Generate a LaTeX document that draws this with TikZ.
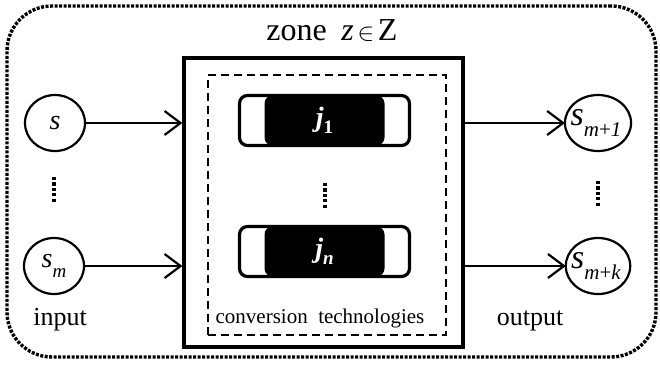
\documentclass[tikz,border=0pt]{standalone}
\usepackage{fontspec}
\setmainfont{Liberation Serif}
\usetikzlibrary{arrows.meta,shapes.geometric}
\newcommand{\fsz}[1]{\fontsize{#1}{#1}\selectfont}
\begin{document}
\begin{tikzpicture}[x=1pt,y=-1pt,
  state/.style={ellipse, draw, line width=2.2pt, minimum width=60pt, minimum height=56pt, inner sep=0pt, outer sep=0pt, font=\fsz{28}\itshape},
  tech/.style={draw, line width=3.2pt, rounded corners=8pt, minimum width=170pt, minimum height=50pt, inner sep=0pt,
    text=white, font=\fsz{28}\bfseries\itshape,
    path picture={\fill[black] ([xshift=-60pt]path picture bounding box.north) rectangle ([xshift=60pt]path picture bounding box.south);}},
  arr/.style={line width=2.2pt, -{Straight Barb[length=16pt,width=24pt,line width=2.2pt]}},
  vdots/.style={line width=4.5pt, dash pattern=on 3.2pt off 2.2pt},
  lbl/.style={anchor=base, inner sep=0pt},
]
\useasboundingbox (0,0) rectangle (660,368);
% outer zone boundary
\node[draw, line width=3.4pt, dash pattern=on 3pt off 1.5pt, rounded corners=45pt,
  minimum width=649pt, minimum height=351pt, inner sep=0pt] (outer) at (331.5,181.5) {};
\node[lbl, font=\fsz{32}] (zlabel) at (332,40) {zone\hspace{0.45em}\textit{z}\hspace{0.12em}$\in$\hspace{0.12em}Z};
% zone box
\node[draw, line width=3.2pt, minimum width=279pt, minimum height=289pt, inner sep=0pt] (zone) at (323.5,202.5) {};
\node[draw, line width=2.5pt, dash pattern=on 8pt off 5pt, minimum width=238pt, minimum height=260pt, inner sep=0pt] (conv) at (327,205) {};
% technologies
\node[tech] (j1) at (324.5,120.5) {j\raisebox{-0.25em}{\fsz{19}\upshape 1}};
\node[tech] (jn) at (324.5,251.5) {j\raisebox{-0.25em}{\fsz{19}n}};
\node[lbl, font=\fsz{21}] (ct) at (320,323) {conversion\hspace{0.5em}technologies};
% states
\node[state] (s) at (55,123) {s};
\node[state] (sm) at (54,266) {s\raisebox{-0.35em}{\fsz{19}m}};
\node[state, font=\fsz{34}\itshape] (o1) at (598,123) {\hspace{-4pt}s\raisebox{-0.3em}{\fsz{21}m\upshape+\itshape1}};
\node[state, font=\fsz{34}\itshape] (ok) at (598,266) {\hspace{-4pt}s\raisebox{-0.3em}{\fsz{21}m\upshape+\itshape k}};
\node[lbl, font=\fsz{26}] (in) at (60,325) {input};
\node[lbl, font=\fsz{26}] (out) at (530,325) {output};
% vertical dots
\draw[vdots] (54,177) -- (54,203);
\draw[vdots] (598,181) -- (598,207);
\draw[vdots] (325,183) -- (325,209);
% connectors
\draw[arr] (s.east) -- (s.east -| zone.west);
\draw[arr] (sm.east) -- (sm.east -| zone.west);
\draw[arr] (zone.east |- o1.west) -- (o1.west);
\draw[arr] (zone.east |- ok.west) -- (ok.west);
\end{tikzpicture}
\end{document}
